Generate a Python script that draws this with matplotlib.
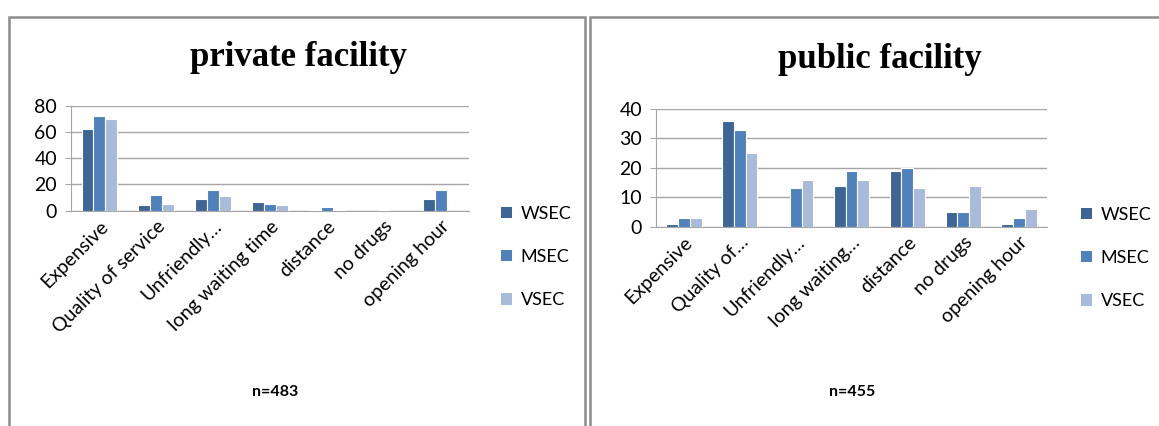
import matplotlib
matplotlib.use("Agg")
import matplotlib.pyplot as plt
from matplotlib.patches import Rectangle, Patch
import numpy as np

plt.rcParams['font.family'] = ['Lato', 'DejaVu Sans']

series = ["WSEC", "MSEC", "VSEC"]
colors = ["#3D6696", "#4F81BD", "#A9BBDA"]

private_labels = ["Expensive", "Quality of service", "Unfriendly\u2026", "long waiting time",
                  "distance", "no drugs", "opening hour"]
private_wsec = [62, 4, 9, 7, 0.3, 0, 9]
private_msec = [72, 12, 16, 5, 3, 0.3, 16]
private_vsec = [70, 5, 11, 4, 0.3, 0, 0]

public_labels = ["Expensive", "Quality of\u2026", "Unfriendly\u2026", "long waiting\u2026",
                 "distance", "no drugs", "opening hour"]
public_wsec = [1, 36, 0, 14, 19, 5, 1]
public_msec = [3, 33, 13, 19, 20, 5, 3]
public_vsec = [3, 25, 16, 16, 13, 14, 6]

W, H = 1159, 426
fig = plt.figure(figsize=(W / 100, H / 100), dpi=100)


def fx(px):
    return px / W


def fy(py):
    return 1 - py / H


def panel(rect, labels, data, ymax, step, title, title_xy, note, note_xy, leg_xy):
    ax = fig.add_axes(rect)
    x = np.arange(len(labels))
    bw = 0.21
    for i, (vals, c) in enumerate(zip(data, colors)):
        ax.bar(x + (i - 1) * bw, vals, width=bw, color=c, edgecolor="white",
               linewidth=0.8, zorder=3)
    ax.set_xlim(-0.5, len(labels) - 0.5)
    ax.set_ylim(0, ymax)
    ax.set_yticks(np.arange(0, ymax + 1, step))
    ax.grid(axis="y", color="#A6A6A6", linewidth=1.0, zorder=0)
    for s in ["top", "right"]:
        ax.spines[s].set_visible(False)
    ax.spines["left"].set_color("#A6A6A6")
    ax.spines["bottom"].set_color("#A6A6A6")
    ax.tick_params(axis="y", length=4, color="#A6A6A6", labelsize=14, pad=6)
    ax.tick_params(axis="x", length=0, labelsize=14, pad=5)
    ax.set_xticks(x)
    ax.set_xticklabels(labels, rotation=45, ha="right", rotation_mode="anchor")
    fig.text(fx(title_xy[0]), fy(title_xy[1]), title, ha="center", va="center",
             family=["Liberation Serif"], fontweight="bold", fontsize=25)
    fig.text(fx(note_xy[0]), fy(note_xy[1]), note, ha="center", va="center",
             fontweight="bold", fontsize=11.5)
    handles = [Patch(facecolor=c, edgecolor="none") for c in colors]
    fig.legend(handles, series, loc="upper left",
               bbox_to_anchor=(fx(leg_xy[0]), fy(leg_xy[1])), frameon=False,
               fontsize=13, handlelength=0.6, handleheight=0.6, handletextpad=0.5,
               labelspacing=1.5, borderaxespad=0, borderpad=0)
    return ax


panel([fx(71), fy(210.7), fx(469) - fx(71), fy(105.7) - fy(210.7)],
      private_labels, [private_wsec, private_msec, private_vsec], 80, 20,
      "private facility", (298, 57), "n=483", (275, 392), (501, 206))

panel([fx(656), fy(226.7), fx(1047) - fx(656), fy(109) - fy(226.7)],
      public_labels, [public_wsec, public_msec, public_vsec], 40, 10,
      "public facility", (880, 60), "n=455", (852, 392), (1081, 207))

# panel frames
border = "#8C8C8C"
for x0, x1 in [(9, 585), (590, 1162)]:
    fig.add_artist(Rectangle((fx(x0), fy(432)), fx(x1) - fx(x0), fy(17) - fy(432),
                             fill=False, edgecolor=border, linewidth=1.8,
                             transform=fig.transFigure))

fig.savefig("out.png", dpi=100)
